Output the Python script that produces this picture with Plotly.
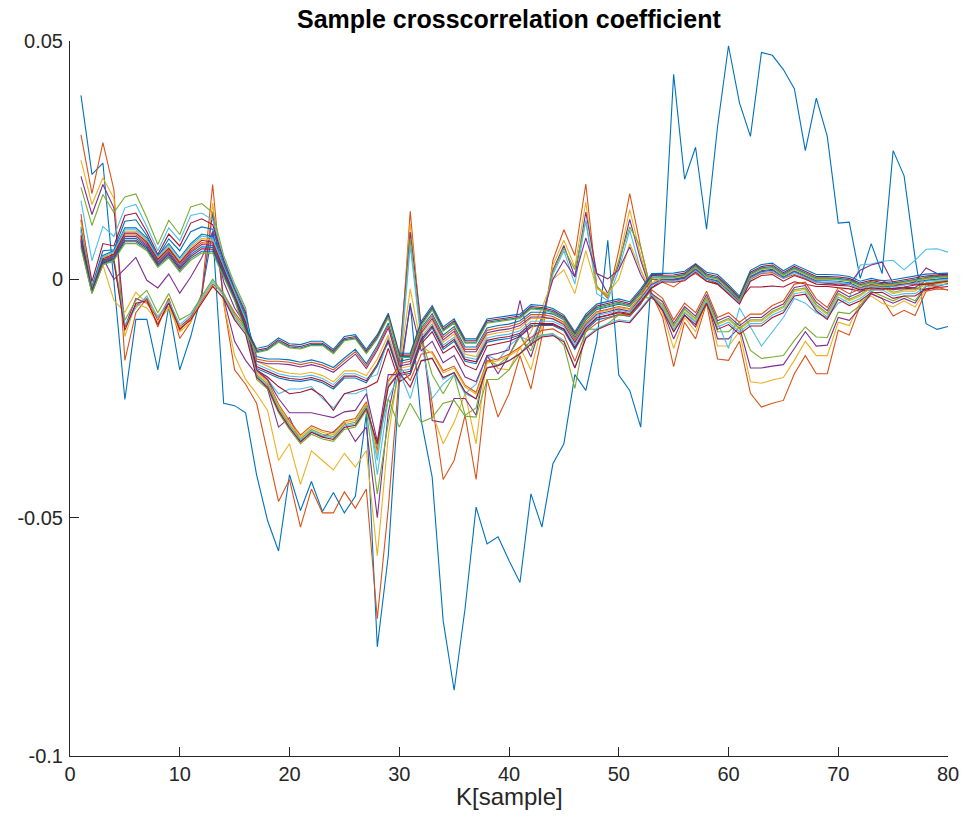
import plotly.graph_objects as go

K = list(range(1, 81))

X_TICKS = [0, 10, 20, 30, 40, 50, 60, 70, 80]
Y_TICKS = [-0.1, -0.05, 0, 0.05]
Y_TICK_TEXT = ["-0.1", "-0.05", "0", "0.05"]

TITLE = "Sample crosscorrelation coefficient"
XLABEL = "K[sample]"

L1 = [0.0386, 0.0220, 0.0244, 0.0000, -0.0252, -0.0084, -0.0084, -0.0190, -0.0057, -0.0190, -0.0120, -0.0030, 0.0100, -0.0260, -0.0265, -0.0280,
      -0.0410, -0.0506, -0.0570, -0.0410, -0.0485, -0.0424, -0.0487, -0.0447, -0.0490, -0.0455, -0.0282, -0.0771, -0.0580, -0.0220,
      -0.0050, -0.0296, -0.0415, -0.0716, -0.0862, -0.0690, -0.0478, -0.0555, -0.0540, -0.0590, -0.0636, -0.0450, -0.0520, -0.0387, -0.0345, -0.0200, -0.0233, -0.0130, 0.0082, -0.0201, -0.0233, -0.0310, 0.0010,
      0.0010, 0.0430, 0.0210, 0.0277, 0.0105, 0.0320, 0.0490, 0.0370, 0.0300, 0.0476, 0.0470, 0.0440, 0.0400, 0.0270, 0.0380, 0.0300, 0.0118, 0.0120, 0.0002, 0.0075, 0.0012, 0.0270, 0.0217, 0.0045, -0.0093, -0.0105, -0.0099]

L2 = [0.0303, 0.0180, 0.0287, 0.0188, -0.0170, -0.0070, -0.0040, -0.0100, -0.0040, -0.0124, -0.0090, -0.0030, 0.0199, -0.0050, -0.0190, -0.0220,
      -0.0260, -0.0360, -0.0466, -0.0420, -0.0520, -0.0440, -0.0490, -0.0490, -0.0446, -0.0480, -0.0440, -0.0712, -0.0480, -0.0200,
      0.0143, -0.0120, -0.0260, -0.0420, -0.0380, -0.0285, -0.0420, -0.0210, -0.0289, -0.0240, -0.0160, -0.0230, -0.0120, 0.0040, 0.0104, 0.0050, 0.0200, -0.0016, -0.0040, 0.0060, 0.0180, 0.0068, -0.0030,
      -0.0080, -0.0183, -0.0090, -0.0125, -0.0050, -0.0167, -0.0170, -0.0130, -0.0239, -0.0268, -0.0260, -0.0254, -0.0198, -0.0160, -0.0198, -0.0198, -0.0107, -0.0117, -0.0055, -0.0030, -0.0040, -0.0077, -0.0065, -0.0076, -0.0025, -0.0020, -0.0022]

L3 = [0.0250, 0.0157, 0.0213, 0.0170, -0.0120, -0.0050, -0.0060, -0.0090, -0.0060, -0.0110, -0.0090, -0.0040, 0.0160, -0.0050, -0.0160, -0.0210,
      -0.0240, -0.0275, -0.0380, -0.0345, -0.0430, -0.0360, -0.0380, -0.0400, -0.0365, -0.0394, -0.0359, -0.0580, -0.0330, -0.0180,
      0.0117, -0.0100, -0.0280, -0.0345, -0.0300, -0.0240, -0.0345, -0.0160, -0.0187, -0.0190, -0.0142, -0.0190, -0.0100, 0.0030, 0.0082, 0.0026, 0.0162, -0.0016, -0.0035, 0.0040, 0.0146, 0.0050, -0.0030,
      -0.0070, -0.0145, -0.0080, -0.0110, -0.0045, -0.0140, -0.0140, -0.0110, -0.0215, -0.0218, -0.0211, -0.0206, -0.0170, -0.0130, -0.0160, -0.0160, -0.0090, -0.0097, -0.0048, -0.0035, -0.0050, -0.0058, -0.0045, -0.0058, -0.0020, -0.0010, -0.0005]

L4 = [0.0216, 0.0136, 0.0199, 0.0150, -0.0100, -0.0040, -0.0050, -0.0080, -0.0050, -0.0100, -0.0080, -0.0035, 0.0140, -0.0040, -0.0130, -0.0170,
      -0.0200, -0.0230, -0.0310, -0.0290, -0.0340, -0.0320, -0.0330, -0.0320, -0.0300, -0.0340, -0.0310, -0.0500, -0.0280, -0.0170,
      0.0099, -0.0100, -0.0296, -0.0300, -0.0250, -0.0250, -0.0285, -0.0160, -0.0198, -0.0160, -0.0115, -0.0163, -0.0090, 0.0019, 0.0071, 0.0005, 0.0141, 0.0012, -0.0030, 0.0030, 0.0126, 0.0040, -0.0030,
      -0.0065, -0.0125, -0.0075, -0.0100, -0.0042, -0.0125, -0.0125, -0.0100, -0.0186, -0.0186, -0.0182, -0.0179, -0.0145, -0.0110, -0.0140, -0.0138, -0.0080, -0.0086, -0.0060, -0.0030, -0.0040, -0.0050, -0.0040, -0.0050, -0.0015, -0.0008, -0.0003]

L5 = [0.0193, 0.0113, 0.0178, 0.0140, 0.0173, 0.0179, 0.0129, 0.0073, 0.0124, 0.0094, 0.0152, 0.0159, 0.0140, 0.0050, -0.0010, -0.0060,
      -0.0210, -0.0230, -0.0280, -0.0315, -0.0345, -0.0325, -0.0335, -0.0340, -0.0315, -0.0310, -0.0275, -0.0450, -0.0300, -0.0190,
      0.0085, -0.0120, -0.0200, -0.0240, -0.0200, -0.0285, -0.0270, -0.0170, -0.0180, -0.0160, -0.0120, -0.0150, -0.0090, 0.0015, 0.0065, 0.0020, 0.0122, -0.0015, -0.0035, 0.0035, 0.0110, 0.0068, -0.0030,
      -0.0055, -0.0110, -0.0070, -0.0090, -0.0040, -0.0110, -0.0110, -0.0090, -0.0149, -0.0166, -0.0163, -0.0160, -0.0128, -0.0100, -0.0121, -0.0122, -0.0069, -0.0072, -0.0055, -0.0025, -0.0035, -0.0045, -0.0035, -0.0045, -0.0012, -0.0006, -0.0002]

L6 = [0.0165, 0.0039, 0.0111, 0.0090, 0.0150, 0.0157, 0.0111, 0.0060, 0.0108, 0.0081, 0.0134, 0.0139, 0.0125, 0.0045, -0.0015, -0.0065,
      -0.0190, -0.0210, -0.0240, -0.0230, -0.0230, -0.0225, -0.0250, -0.0270, -0.0240, -0.0240, -0.0230, -0.0410, -0.0250, -0.0200,
      0.0070, -0.0130, -0.0250, -0.0220, -0.0200, -0.0240, -0.0220, -0.0160, -0.0170, -0.0140, -0.0120, -0.0130, -0.0080, 0.0010, 0.0060, -0.0010, 0.0124, -0.0030, -0.0045, 0.0020, 0.0103, 0.0019, -0.0030,
      -0.0060, -0.0100, -0.0060, -0.0090, -0.0040, -0.0090, -0.0145, -0.0060, -0.0100, -0.0140, -0.0110, -0.0080, -0.0040, -0.0050, -0.0070, -0.0080, -0.0050, -0.0040, 0.0030, 0.0032, 0.0038, 0.0040, 0.0020, 0.0040, 0.0063, 0.0064, 0.0057]

L7 = [0.0125, -0.0005, 0.0075, 0.0070, 0.0134, 0.0139, 0.0100, 0.0052, 0.0095, 0.0070, 0.0118, 0.0127, 0.0115, 0.0040, -0.0020, -0.0070,
      -0.0190, -0.0205, -0.0225, -0.0240, -0.0237, -0.0230, -0.0245, -0.0275, -0.0240, -0.0233, -0.0227, -0.0215, -0.0145, -0.0215,
      -0.0200, -0.0135, -0.0110, -0.0155, -0.0140, -0.0180, -0.0190, -0.0140, -0.0135, -0.0130, -0.0120, -0.0100, -0.0095, -0.0095, -0.0105, -0.0145, -0.0102, -0.0080, -0.0075, -0.0068, -0.0072, -0.0046, -0.0018,
      0.0000, 0.0000, 0.0005, 0.0025, 0.0000, -0.0008, -0.0023, -0.0044, -0.0016, -0.0016, -0.0014, -0.0016, -0.0005, -0.0010, -0.0015, -0.0015, -0.0018, -0.0020, -0.0025, -0.0022, -0.0022, -0.0020, -0.0020, -0.0018, -0.0023, -0.0015, -0.0008]

B8 = [0.0110, -0.0015, 0.0060, 0.0062, 0.0122, 0.0125, 0.0092, 0.0047, 0.0085, 0.0060, 0.0100, 0.0110, 0.0105, 0.0035, -0.0025, -0.0075,
      -0.0187, -0.0197, -0.0207, -0.0212, -0.0214, -0.0210, -0.0217, -0.0230, -0.0207, -0.0207, -0.0217, -0.0182, -0.0132, -0.0202,
      -0.0197, -0.0130, -0.0102, -0.0147, -0.0130, -0.0172, -0.0177, -0.0132, -0.0127, -0.0124, -0.0117, -0.0097, -0.0097, -0.0097, -0.0108, -0.0147, -0.0107, -0.0085, -0.0080, -0.0074, -0.0078, -0.0052, -0.0012,
      0.0004, 0.0005, 0.0009, 0.0026, 0.0006, 0.0001, -0.0019, -0.0042, 0.0010, 0.0022, 0.0025, 0.0009, 0.0022, 0.0011, 0.0001, 0.0001, 0.0000, -0.0003, -0.0013, -0.0007, -0.0012, -0.0010, -0.0006, -0.0002, 0.0002, 0.0004, 0.0006]

R9 = [0.0137, -0.0025, 0.0050, 0.0040, -0.0100, -0.0055, -0.0040, -0.0086, -0.0040, -0.0107, -0.0080, -0.0045, -0.0010, -0.0030, -0.0070, -0.0100,
      -0.0192, -0.0212, -0.0262, -0.0297, -0.0327, -0.0307, -0.0317, -0.0322, -0.0297, -0.0292, -0.0257, -0.0360, -0.0212, -0.0182,
      -0.0212, -0.0157, -0.0152, -0.0192, -0.0182, -0.0222, -0.0237, -0.0172, -0.0167, -0.0157, -0.0142, -0.0122, -0.0107, -0.0104, -0.0117, -0.0172, -0.0110, -0.0092, -0.0082, -0.0074, -0.0077, -0.0050, -0.0022,
      -0.0040, -0.0085, -0.0050, -0.0070, -0.0025, -0.0080, -0.0070, -0.0090, -0.0073, -0.0073, -0.0055, -0.0045, -0.0010, -0.0006, -0.0041, -0.0059, -0.0017, -0.0030, -0.0020, -0.0003, -0.0002, -0.0015, -0.0010, -0.0010, 0.0005, 0.0007, 0.0010]

Y10 = [0.0120, -0.0028, 0.0030, -0.0044, -0.0069, -0.0027, -0.0051, -0.0076, -0.0057, -0.0100, -0.0086, -0.0040, -0.0013, -0.0040, -0.0080, -0.0110,
       -0.0196, -0.0216, -0.0266, -0.0301, -0.0331, -0.0311, -0.0321, -0.0326, -0.0301, -0.0296, -0.0261, -0.0370, -0.0216, -0.0186,
       -0.0020, -0.0140, -0.0156, -0.0196, -0.0186, -0.0226, -0.0241, -0.0176, -0.0171, -0.0161, -0.0146, -0.0110, -0.0060, 0.0000, 0.0020, -0.0030, 0.0060, -0.0020, -0.0030, 0.0000, 0.0075, 0.0020, -0.0030,
       -0.0055, -0.0100, -0.0065, -0.0085, -0.0040, -0.0095, -0.0085, -0.0105, -0.0088, -0.0088, -0.0070, -0.0060, -0.0025, -0.0021, -0.0056, -0.0074, -0.0032, -0.0045, -0.0035, -0.0018, -0.0017, -0.0030, -0.0025, -0.0025, -0.0010, -0.0008, -0.0005]

P11 = [0.0080, -0.0020, 0.0045, 0.0000, 0.0022, 0.0046, -0.0002, -0.0018, 0.0011, -0.0029, 0.0005, 0.0045, 0.0100, -0.0005, -0.0060, -0.0095,
       -0.0190, -0.0210, -0.0250, -0.0280, -0.0280, -0.0280, -0.0285, -0.0290, -0.0278, -0.0275, -0.0240, -0.0340, -0.0200, -0.0200,
       -0.0055, -0.0150, -0.0130, -0.0175, -0.0160, -0.0205, -0.0215, -0.0160, -0.0155, -0.0148, -0.0044, -0.0140, -0.0080, 0.0000, 0.0040, 0.0005, 0.0087, 0.0012, 0.0001, 0.0020, 0.0068, 0.0010, -0.0030,
       -0.0047, -0.0092, -0.0057, -0.0077, -0.0032, -0.0087, -0.0077, -0.0097, -0.0080, -0.0080, -0.0062, -0.0052, -0.0017, -0.0013, -0.0048, -0.0066, -0.0024, -0.0037, -0.0027, -0.0010, -0.0009, -0.0022, -0.0017, -0.0017, -0.0002, 0.0000, 0.0003]

G12 = [0.0100, -0.0022, 0.0040, 0.0042, -0.0086, -0.0044, -0.0023, -0.0070, -0.0030, -0.0085, -0.0072, -0.0035, 0.0000, -0.0030, -0.0075, -0.0105,
       -0.0200, -0.0220, -0.0270, -0.0305, -0.0335, -0.0315, -0.0325, -0.0330, -0.0305, -0.0300, -0.0265, -0.0350, -0.0250, -0.0310,
       -0.0260, -0.0300, -0.0290, -0.0260, -0.0254, -0.0287, -0.0289, -0.0210, -0.0210, -0.0190, -0.0156, -0.0128, -0.0117, -0.0114, -0.0138, -0.0229, -0.0104, -0.0105, -0.0093, -0.0075, -0.0072, -0.0037, -0.0040,
       -0.0052, -0.0097, -0.0062, -0.0082, -0.0037, -0.0092, -0.0082, -0.0102, -0.0085, -0.0085, -0.0067, -0.0057, -0.0022, -0.0018, -0.0053, -0.0071, -0.0029, -0.0042, -0.0032, -0.0015, -0.0014, -0.0027, -0.0022, -0.0022, -0.0007, -0.0005, -0.0002]

C13 = [0.0090, -0.0026, 0.0035, 0.0035, -0.0095, -0.0060, -0.0035, -0.0080, -0.0045, -0.0095, -0.0075, -0.0040, -0.0005, -0.0035, -0.0080, -0.0110,
       -0.0203, -0.0223, -0.0273, -0.0308, -0.0338, -0.0318, -0.0328, -0.0333, -0.0308, -0.0303, -0.0268, -0.0380, -0.0223, -0.0193,
       -0.0250, -0.0170, -0.0165, -0.0210, -0.0195, -0.0240, -0.0250, -0.0185, -0.0180, -0.0170, -0.0155, -0.0135, -0.0118, -0.0115, -0.0128, -0.0185, -0.0121, -0.0103, -0.0093, -0.0085, -0.0088, -0.0061, -0.0033,
       -0.0060, -0.0105, -0.0070, -0.0090, -0.0045, -0.0100, -0.0090, -0.0110, -0.0093, -0.0093, -0.0075, -0.0065, -0.0030, -0.0026, -0.0061, -0.0079, -0.0037, -0.0050, -0.0040, -0.0023, -0.0022, -0.0035, -0.0030, -0.0030, -0.0015, -0.0013, -0.0010]

D14 = [0.0085, -0.0024, 0.0042, 0.0038, -0.0107, -0.0050, -0.0045, -0.0095, -0.0050, -0.0104, -0.0085, -0.0050, -0.0015, -0.0040, -0.0085, -0.0115,
       -0.0206, -0.0226, -0.0276, -0.0311, -0.0341, -0.0321, -0.0331, -0.0336, -0.0311, -0.0306, -0.0271, -0.0345, -0.0226, -0.0196,
       -0.0226, -0.0171, -0.0166, -0.0206, -0.0196, -0.0236, -0.0251, -0.0186, -0.0181, -0.0171, -0.0156, -0.0136, -0.0121, -0.0118, -0.0131, -0.0186, -0.0124, -0.0106, -0.0096, -0.0088, -0.0091, -0.0064, -0.0036,
       -0.0065, -0.0110, -0.0075, -0.0095, -0.0050, -0.0105, -0.0095, -0.0115, -0.0098, -0.0098, -0.0080, -0.0070, -0.0035, -0.0031, -0.0066, -0.0084, -0.0042, -0.0055, -0.0045, -0.0028, -0.0027, -0.0040, -0.0035, -0.0035, -0.0020, -0.0018, -0.0015]

B15 = [0.0105, -0.0018, 0.0050, 0.0060, 0.0108, 0.0108, 0.0087, 0.0050, 0.0075, 0.0045, 0.0075, 0.0095, 0.0090, 0.0030, -0.0025, -0.0080,
       -0.0162, -0.0167, -0.0167, -0.0169, -0.0174, -0.0169, -0.0175, -0.0185, -0.0165, -0.0147, -0.0177, -0.0139, -0.0092, -0.0172,
       -0.0167, -0.0102, -0.0072, -0.0117, -0.0099, -0.0142, -0.0142, -0.0102, -0.0097, -0.0094, -0.0087, -0.0069, -0.0069, -0.0073, -0.0085, -0.0122, -0.0085, -0.0063, -0.0058, -0.0052, -0.0057, -0.0030, 0.0000,
       0.0000, 0.0000, 0.0004, 0.0022, 0.0002, -0.0003, -0.0024, -0.0048, 0.0006, 0.0018, 0.0021, 0.0005, 0.0018, 0.0007, -0.0003, -0.0003, -0.0004, -0.0007, -0.0017, -0.0011, -0.0016, -0.0014, -0.0010, -0.0006, -0.0002, 0.0000, 0.0002]

R16 = [0.0088, -0.0023, 0.0041, 0.0051, 0.0093, 0.0093, 0.0075, 0.0039, 0.0062, 0.0032, 0.0059, 0.0077, 0.0074, 0.0019, -0.0034, -0.0093,
       -0.0167, -0.0172, -0.0172, -0.0174, -0.0179, -0.0174, -0.0180, -0.0190, -0.0170, -0.0152, -0.0182, -0.0144, -0.0097, -0.0177,
       -0.0172, -0.0107, -0.0077, -0.0122, -0.0104, -0.0147, -0.0147, -0.0107, -0.0102, -0.0099, -0.0092, -0.0074, -0.0074, -0.0078, -0.0090, -0.0127, -0.0090, -0.0068, -0.0063, -0.0057, -0.0062, -0.0035,
       0.0001, -0.0006, -0.0016, 0.0001, 0.0012, -0.0004, -0.0010, -0.0028, -0.0048, 0.0000, 0.0012, 0.0014, 0.0002, 0.0010, 0.0002, -0.0006, -0.0008, -0.0008, -0.0010, -0.0018, -0.0012, -0.0015, -0.0012, -0.0010, -0.0010, -0.0009, -0.0016, -0.0023]

Y17 = [0.0096, -0.0021, 0.0046, 0.0056, 0.0101, 0.0101, 0.0081, 0.0044, 0.0068, 0.0038, 0.0067, 0.0086, 0.0082, 0.0024, -0.0029, -0.0087,
       -0.0172, -0.0182, -0.0192, -0.0197, -0.0199, -0.0195, -0.0202, -0.0215, -0.0192, -0.0192, -0.0202, -0.0167, -0.0117, -0.0187,
       -0.0182, -0.0115, -0.0087, -0.0132, -0.0115, -0.0157, -0.0162, -0.0117, -0.0112, -0.0109, -0.0102, -0.0082, -0.0082, -0.0082, -0.0093, -0.0132, -0.0092, -0.0070, -0.0065, -0.0059, -0.0063, -0.0037, -0.0007,
       0.0003, 0.0003, 0.0007, 0.0025, 0.0005, 0.0000, -0.0021, -0.0045, 0.0009, 0.0021, 0.0024, 0.0008, 0.0021, 0.0010, 0.0000, 0.0000, -0.0001, -0.0004, -0.0014, -0.0008, -0.0013, -0.0011, -0.0007, -0.0003, 0.0001, 0.0003, 0.0005]

P18 = [0.0083, -0.0025, 0.0039, 0.0049, 0.0090, 0.0090, 0.0072, 0.0036, 0.0058, 0.0028, 0.0056, 0.0073, 0.0071, 0.0016, -0.0036, -0.0097,
       -0.0172, -0.0177, -0.0177, -0.0179, -0.0184, -0.0179, -0.0185, -0.0195, -0.0175, -0.0157, -0.0187, -0.0149, -0.0102, -0.0182,
       -0.0177, -0.0112, -0.0082, -0.0127, -0.0109, -0.0152, -0.0152, -0.0112, -0.0107, -0.0104, -0.0097, -0.0079, -0.0079, -0.0083, -0.0095, -0.0132, -0.0095, -0.0073, -0.0068, -0.0062, -0.0067, -0.0040, -0.0010,
       -0.0002, -0.0002, 0.0002, 0.0020, 0.0000, -0.0005, -0.0025, -0.0045, 0.0004, 0.0016, 0.0019, 0.0003, 0.0016, 0.0005, -0.0005, -0.0008, -0.0012, -0.0010, 0.0019, 0.0030, 0.0036, -0.0008, -0.0012, -0.0005, 0.0024, 0.0012, 0.0005]

C19 = [0.0101, -0.0019, 0.0048, 0.0058, 0.0104, 0.0104, 0.0084, 0.0047, 0.0072, 0.0042, 0.0071, 0.0091, 0.0086, 0.0027, -0.0027, -0.0083,
       -0.0178, -0.0188, -0.0198, -0.0203, -0.0205, -0.0201, -0.0208, -0.0221, -0.0198, -0.0198, -0.0208, -0.0200, -0.0123, -0.0193,
       -0.0188, -0.0121, -0.0093, -0.0138, -0.0121, -0.0163, -0.0168, -0.0123, -0.0118, -0.0115, -0.0108, -0.0088, -0.0088, -0.0088, -0.0099, -0.0138, -0.0098, -0.0076, -0.0071, -0.0065, -0.0069, -0.0043, -0.0013,
       -0.0002, -0.0004, 0.0000, 0.0018, 0.0000, -0.0006, -0.0026, -0.0050, 0.0002, 0.0014, 0.0017, 0.0002, 0.0014, 0.0004, -0.0006, -0.0006, -0.0007, -0.0010, -0.0020, -0.0014, -0.0018, -0.0016, -0.0012, -0.0008, -0.0004, -0.0002, 0.0000]

D20 = [0.0092, -0.0022, 0.0043, 0.0053, 0.0097, 0.0097, 0.0078, 0.0042, 0.0065, 0.0035, 0.0063, 0.0082, 0.0078, 0.0022, -0.0032, -0.0090,
       -0.0183, -0.0193, -0.0203, -0.0208, -0.0210, -0.0206, -0.0213, -0.0226, -0.0203, -0.0203, -0.0213, -0.0178, -0.0128, -0.0198,
       -0.0193, -0.0126, -0.0098, -0.0143, -0.0126, -0.0168, -0.0173, -0.0128, -0.0123, -0.0120, -0.0113, -0.0093, -0.0093, -0.0093, -0.0104, -0.0143, -0.0103, -0.0081, -0.0076, -0.0070, -0.0074, -0.0048, -0.0018,
       -0.0005, -0.0006, -0.0003, 0.0015, -0.0004, -0.0010, -0.0030, -0.0052, -0.0004, 0.0008, 0.0010, -0.0004, 0.0008, 0.0000, -0.0010, -0.0011, -0.0012, -0.0014, -0.0022, -0.0018, -0.0020, -0.0019, -0.0016, -0.0012, -0.0010, -0.0007, -0.0004]

B21 = [0.0079, -0.0026, 0.0037, 0.0047, 0.0086, 0.0086, 0.0069, 0.0033, 0.0055, 0.0025, 0.0052, 0.0068, 0.0067, 0.0013, -0.0038, -0.0100,
       -0.0145, -0.0140, -0.0123, -0.0135, -0.0137, -0.0130, -0.0130, -0.0147, -0.0120, -0.0116, -0.0147, -0.0116, -0.0071, -0.0155,
       -0.0155, -0.0088, -0.0055, -0.0100, -0.0083, -0.0125, -0.0125, -0.0083, -0.0080, -0.0077, -0.0073, -0.0053, -0.0055, -0.0061, -0.0075, -0.0110, -0.0073, -0.0052, -0.0047, -0.0041, -0.0047, -0.0020, 0.0012,
       0.0013, 0.0013, 0.0017, 0.0033, 0.0015, 0.0010, -0.0011, -0.0035, 0.0019, 0.0031, 0.0034, 0.0018, 0.0031, 0.0020, 0.0010, 0.0010, 0.0009, 0.0006, -0.0004, 0.0002, -0.0003, -0.0001, 0.0003, 0.0007, 0.0011, 0.0012, 0.0013]

D23 = [0.0075, -0.0027, 0.0034, 0.0044, 0.0082, 0.0082, 0.0066, 0.0031, 0.0052, 0.0022, 0.0048, 0.0064, 0.0063, 0.0011, -0.0041, -0.0103,
       -0.0149, -0.0144, -0.0127, -0.0139, -0.0141, -0.0134, -0.0134, -0.0151, -0.0124, -0.0120, -0.0151, -0.0120, -0.0075, -0.0159,
       -0.0159, -0.0092, -0.0059, -0.0104, -0.0087, -0.0129, -0.0129, -0.0087, -0.0084, -0.0081, -0.0077, -0.0057, -0.0059, -0.0065, -0.0079, -0.0114, -0.0077, -0.0056, -0.0051, -0.0045, -0.0051, -0.0024, 0.0008,
       0.0009, 0.0009, 0.0013, 0.0031, 0.0011, 0.0006, -0.0015, -0.0039, 0.0015, 0.0027, 0.0030, 0.0014, 0.0027, 0.0016, 0.0006, 0.0006, 0.0005, 0.0002, -0.0008, -0.0002, -0.0007, -0.0005, -0.0001, 0.0003, 0.0007, 0.0009, 0.0011]

B25 = [0.0070, -0.0029, 0.0032, 0.0042, 0.0079, 0.0079, 0.0063, 0.0028, 0.0048, 0.0018, 0.0044, 0.0059, 0.0059, 0.0008, -0.0043, -0.0107,
       -0.0152, -0.0147, -0.0130, -0.0142, -0.0144, -0.0137, -0.0137, -0.0154, -0.0127, -0.0123, -0.0154, -0.0123, -0.0078, -0.0162,
       -0.0162, -0.0095, -0.0062, -0.0107, -0.0090, -0.0132, -0.0132, -0.0090, -0.0087, -0.0084, -0.0080, -0.0060, -0.0062, -0.0068, -0.0082, -0.0117, -0.0080, -0.0059, -0.0054, -0.0048, -0.0054, -0.0027, 0.0005,
       0.0006, 0.0006, 0.0010, 0.0028, 0.0008, 0.0003, -0.0018, -0.0042, 0.0012, 0.0024, 0.0027, 0.0011, 0.0024, 0.0013, 0.0003, 0.0003, 0.0002, -0.0001, -0.0011, -0.0005, -0.0010, -0.0008, -0.0004, 0.0000, 0.0004, 0.0006, 0.0008]

G26 = [0.0066, -0.0030, 0.0030, 0.0040, 0.0075, 0.0075, 0.0060, 0.0025, 0.0045, 0.0015, 0.0040, 0.0055, 0.0055, 0.0005, -0.0045, -0.0110,
       -0.0154, -0.0149, -0.0132, -0.0144, -0.0146, -0.0139, -0.0139, -0.0156, -0.0129, -0.0125, -0.0156, -0.0125, -0.0080, -0.0164,
       -0.0164, -0.0097, -0.0064, -0.0109, -0.0092, -0.0134, -0.0134, -0.0092, -0.0089, -0.0086, -0.0082, -0.0062, -0.0064, -0.0070, -0.0084, -0.0119, -0.0082, -0.0061, -0.0056, -0.0050, -0.0056, -0.0029, 0.0003,
       0.0004, 0.0004, 0.0008, 0.0026, 0.0006, 0.0001, -0.0020, -0.0044, 0.0010, 0.0022, 0.0025, 0.0009, 0.0022, 0.0011, 0.0001, 0.0001, 0.0000, -0.0003, -0.0013, -0.0007, -0.0012, -0.0010, -0.0006, -0.0002, 0.0002, 0.0004, 0.0006]

BLUE, RED, YELLOW, PURPLE, GREEN, CYAN, DARKRED = (
    "#0072BD", "#D95319", "#EDB120", "#7E2F8E", "#77AC30", "#4DBEEE", "#A2142F")

SERIES = [
    ("L1", L1, BLUE), ("L2", L2, RED), ("L3", L3, YELLOW), ("L4", L4, PURPLE),
    ("L5", L5, GREEN), ("L6", L6, CYAN), ("L7", L7, DARKRED), ("B8", B8, BLUE),
    ("R9", R9, RED), ("Y10", Y10, YELLOW), ("P11", P11, PURPLE), ("G12", G12, GREEN),
    ("C13", C13, CYAN), ("D14", D14, DARKRED), ("B15", B15, BLUE), ("R16", R16, RED),
    ("Y17", Y17, YELLOW), ("P18", P18, PURPLE), ("C19", C19, CYAN), ("D20", D20, DARKRED),
    ("B21", B21, BLUE), ("D23", D23, DARKRED), ("B25", B25, BLUE), ("G26", G26, GREEN),
]

for name, ys, _ in SERIES:
    assert len(ys) == len(K), (name, len(ys))

AX = "#262626"
FONT = "Liberation Sans, Arial, Helvetica, sans-serif"

fig = go.Figure()
for name, ys, col in SERIES:
    fig.add_trace(go.Scatter(x=K, y=ys, mode="lines", name=name,
                             line=dict(color=col, width=1.1),
                             hoverinfo="skip", showlegend=False))

fig.update_layout(
    template="none",
    width=962, height=829,
    margin=dict(l=70, r=14, t=41, b=73, pad=0, autoexpand=False),
    paper_bgcolor="white", plot_bgcolor="white",
    showlegend=False,
    font=dict(family=FONT, color=AX, size=20),
    annotations=[
        dict(text="<b>" + TITLE + "</b>", x=0.5, y=1.031, xref="paper", yref="paper",
             xanchor="center", yanchor="middle", showarrow=False,
             font=dict(family=FONT, size=25, color="black")),
        dict(text=XLABEL, x=0.5, y=-0.0565, xref="paper", yref="paper",
             xanchor="center", yanchor="middle", showarrow=False,
             font=dict(family=FONT, size=24, color=AX)),
    ],
)
fig.update_xaxes(range=[0, 80], tickmode="array", tickvals=X_TICKS,
                 ticktext=[str(v) for v in X_TICKS], automargin=False,
                 ticks="inside", ticklen=9, tickwidth=1, tickcolor=AX,
                 showline=True, linecolor=AX, linewidth=1, mirror=False,
                 showgrid=False, zeroline=False,
                 tickfont=dict(family=FONT, size=20, color=AX))
fig.update_yaxes(range=[-0.1, 0.05], tickmode="array", tickvals=Y_TICKS,
                 ticktext=Y_TICK_TEXT, automargin=False, ticklabelstandoff=2,
                 ticks="inside", ticklen=9, tickwidth=1, tickcolor=AX,
                 showline=True, linecolor=AX, linewidth=1, mirror=False,
                 showgrid=False, zeroline=False,
                 tickfont=dict(family=FONT, size=20, color=AX))

fig.write_html("out.html")
